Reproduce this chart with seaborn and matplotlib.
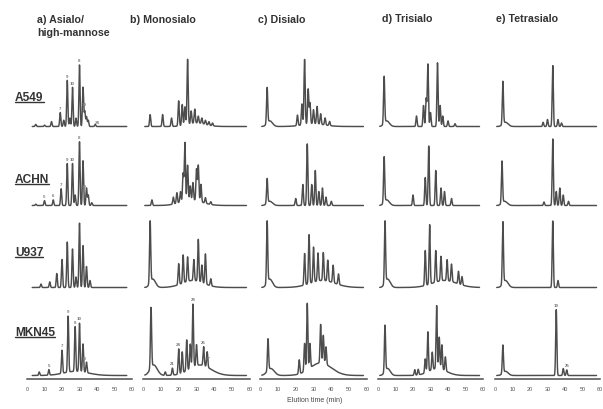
import numpy as np
import pandas as pd
import matplotlib
matplotlib.use("Agg")
import matplotlib.pyplot as plt
from matplotlib.lines import Line2D
import seaborn as sns

sns.set_theme(style="white")
plt.rcParams['font.family'] = ['Liberation Sans', 'DejaVu Sans']

# ---------------- data (peaks: elution time [min], relative height [%], optional width) -------------
columns = ["a) Asialo/", "b) Monosialo", "c) Disialo", "d) Trisialo", "e) Tetrasialo"]
column_sub = "high-mannose"
cell_lines = ["A549", "ACHN", "U937", "MKN45"]
tick_values = [0, 10, 20, 30, 40, 50, 60]
x_label = "Elution time (min)"

A549_a = [(5, 3), (10, 2), (14, 7), (19, 20), (21, 9), (23, 66), (24.5, 12), (26, 56), (28, 12),
          (30, 88), (32, 56), (33, 22), (34, 14), (35, 9), (39, 3)]
A549_b = [(4, 17), (11, 17), (16, 12), (20, 36), (22, 30), (23.5, 26), (25, 93), (27, 18), (29, 20),
          (31, 10), (33, 8), (35, 6), (37, 5), (39, 4), (30, 5, 5)]
A549_c = [(4, 51), (5.5, 8, 1.5), (21, 15), (23.5, 30), (25, 93), (27, 50), (28, 30), (30, 20),
          (32, 25), (34, 15), (36.5, 10), (39, 6), (30, 4, 6)]
A549_d = [(3.5, 67), (5, 8, 1.5), (22, 15), (26, 30), (27.5, 40), (28.5, 89), (30, 20), (34, 91),
          (35.5, 30), (37, 15), (40, 8), (44, 4)]
A549_e = [(4.5, 61), (6, 6, 1.5), (27.5, 6), (30, 10), (33, 87), (36, 10), (38, 5)]

ACHN_a = [(5, 2), (10, 7), (15, 8), (19.5, 24), (23, 60), (26, 60), (27.5, 15), (30, 91), (32, 64),
          (34, 25), (35, 15), (37, 4)]
ACHN_b = [(5, 8), (17, 10), (19, 15), (21, 15), (22.5, 40), (23.5, 83), (25, 50), (26.5, 20), (28, 25),
          (30, 45), (31, 51), (32.5, 25), (35, 8), (38, 4), (27, 8, 6)]
ACHN_c = [(4, 35), (5.5, 6, 1.5), (20, 10), (24, 30), (26.5, 88), (29, 30), (31, 50), (33, 20),
          (35, 25), (37, 12), (40, 6)]
ACHN_d = [(3.5, 65), (5, 8, 1.5), (20, 15), (27, 40), (29, 85), (33, 50), (36, 25), (38, 20), (42, 10)]
ACHN_e = [(4, 60), (5.5, 6, 1.5), (28, 5), (33, 95), (35, 20), (37, 25), (39, 15), (42, 6)]

U937_a = [(8, 5), (13, 8), (17, 20), (20, 40), (23, 65), (26, 55), (28, 15), (30, 92), (32, 60),
          (34, 30), (36, 10)]
U937_b = [(4, 88), (5.5, 12, 1.5), (20, 30), (22.5, 40), (25, 35), (28.5, 30), (31, 60), (33, 25),
          (35, 43), (38, 10), (28, 10, 6)]
U937_c = [(4, 88), (5.5, 12, 1.5), (25, 45), (27.5, 70), (30, 50), (32.5, 40), (35.5, 40), (38, 30),
          (41, 25), (44, 15), (35, 10, 7)]
U937_d = [(4, 88), (5.5, 12, 1.5), (27, 50), (29.5, 85), (33, 45), (36, 35), (39.5, 30), (42, 25),
          (46, 18), (48, 12), (38, 10, 7)]
U937_e = [(4.5, 88), (6, 10, 1.5), (33, 95), (36, 10)]

MKN45_a = [(7, 5), (12.5, 8), (20, 33), (23.5, 80), (27.5, 64), (30, 69), (32, 40), (34, 15), (28, 6, 7)]
MKN45_b = [(4.5, 86), (6, 15, 2), (12.5, 5), (16.5, 10), (20, 36), (22, 30), (24.5, 44), (26.5, 35),
           (28, 90), (30, 30), (34, 27), (36, 22), (32, 15, 6)]
MKN45_c = [(4.5, 45), (6, 10, 2), (22, 20), (25, 40), (26.5, 95), (28, 35), (34, 55), (35.5, 40),
           (37, 25), (34, 18, 6)]
MKN45_d = [(4, 66), (5.5, 10, 1.5), (21, 8), (23, 8), (27, 20), (28.5, 57), (31, 25), (33.5, 90),
           (35, 45), (36.5, 35), (38.5, 20), (34, 10, 5)]
MKN45_e = [(4.5, 40), (6, 6, 1.5), (35, 94), (39, 10), (41, 8)]

# small peak tags (time, text) — faint numbers printed above some peaks
A549_a_tags = [(19, "7"), (23, "9"), (26, "10"), (30, "8"), (32.5, "10"), (40, "24")]
ACHN_a_tags = [(10, "5"), (15, "6"), (19.5, "7"), (23, "9"), (26, "10"), (30, "8"), (32.5, "10")]
MKN45_a_tags = [(12.5, "5"), (20, "7"), (23.5, "9"), (27.5, "8"), (30, "10"), (32.5, "10")]
MKN45_b_tags = [(16.5, "21"), (20, "24"), (28, "28"), (34, "26"), (36.5, "27")]
MKN45_e_tags = [(35, "19"), (41, "25")]

panels = [
    [A549_a, A549_b, A549_c, A549_d, A549_e],
    [ACHN_a, ACHN_b, ACHN_c, ACHN_d, ACHN_e],
    [U937_a, U937_b, U937_c, U937_d, U937_e],
    [MKN45_a, MKN45_b, MKN45_c, MKN45_d, MKN45_e],
]
panel_tags = {(0, 0): A549_a_tags, (1, 0): ACHN_a_tags, (3, 0): MKN45_a_tags,
              (3, 1): MKN45_b_tags, (3, 4): MKN45_e_tags}

# ---------------- layout (pixels) ----------------
W, H = 603, 410
fig = plt.figure(figsize=(W / 100, H / 100), dpi=100)
fig.patch.set_facecolor("white")

col_x = [(27, 132), (143, 250), (260, 367), (378, 483), (495, 600)]
row_y = [(54, 131), (133, 210), (215, 292), (303, 380)]
trace_start = [3, 1, 1, 1, 1]
trace_end = [57, 58, 58, 58, 58]
color = "#4d4d4d"


def trace(peaks, t0, t1):
    t = np.linspace(t0, t1, 2400)
    y = np.full_like(t, 2.0)
    for p in peaks:
        mu, h = p[0], p[1]
        s = p[2] if len(p) > 2 else 0.33
        y += h * np.exp(-0.5 * ((t - mu) / s) ** 2)
    return pd.DataFrame({"time": t, "signal": y})


for r in range(4):
    for c in range(5):
        x0, x1 = col_x[c]
        top, bot = row_y[r]
        ax = fig.add_axes([x0 / W, 1 - bot / H, (x1 - x0) / W, (bot - top) / H])
        df = trace(panels[r][c], trace_start[c], trace_end[c])
        sns.lineplot(data=df, x="time", y="signal", ax=ax, color=color, lw=1.05)
        for tt, txt in panel_tags.get((r, c), []):
            yy = np.interp(tt, df["time"], df["signal"])
            ax.text(tt, yy + 4, txt, fontsize=3.2, color="#777777", ha="center", va="bottom",
                    fontweight="bold")
        ax.set_xlim(0, 60)
        ax.set_ylim(-3, 107)
        ax.set_xlabel("")
        ax.set_ylabel("")
        ax.set_yticks([])
        ax.patch.set_alpha(0)
        for sp in ["top", "right", "left"]:
            ax.spines[sp].set_visible(False)
        if r == 3:
            ax.spines["bottom"].set_color(color)
            ax.spines["bottom"].set_linewidth(1.1)
            ax.set_xticks(tick_values)
            ax.set_xticklabels([str(v) for v in tick_values], fontsize=4, color="#555555")
            ax.tick_params(axis="x", direction="out", length=2.5, width=1.0, color=color, pad=2.5)
        else:
            ax.spines["bottom"].set_visible(False)
            ax.set_xticks([])

# column headers
head_pos = [(37, 20), (130, 20), (258, 20), (382, 19), (496, 19)]
for (px, py), txt in zip(head_pos, columns):
    fig.text(px / W, 1 - py / H, txt, fontsize=7.7, fontweight="bold", color="#333333",
             ha="left", va="center")
fig.text(37 / W, 1 - 33 / H, column_sub, fontsize=7.7, fontweight="bold", color="#333333",
         ha="left", va="center")

# row labels (underlined)
row_lab_y = [98, 180, 253, 333]
renderer = fig.canvas.get_renderer()
for lab, py in zip(cell_lines, row_lab_y):
    t = fig.text(15 / W, 1 - py / H, lab, fontsize=8.6, fontweight="bold",
                 color="#333333", ha="left", va="center")
    bb = t.get_window_extent(renderer=renderer)
    yline = bb.y0 + 0.8
    fig.add_artist(Line2D([bb.x0 / W, bb.x1 / W], [yline / H, yline / H],
                          transform=fig.transFigure, color="#333333", lw=1.0))

fig.text(315 / W, 1 - 401 / H, x_label, fontsize=5, color="#444444", ha="center", va="center")

fig.savefig("out.png", dpi=100, facecolor="white")
